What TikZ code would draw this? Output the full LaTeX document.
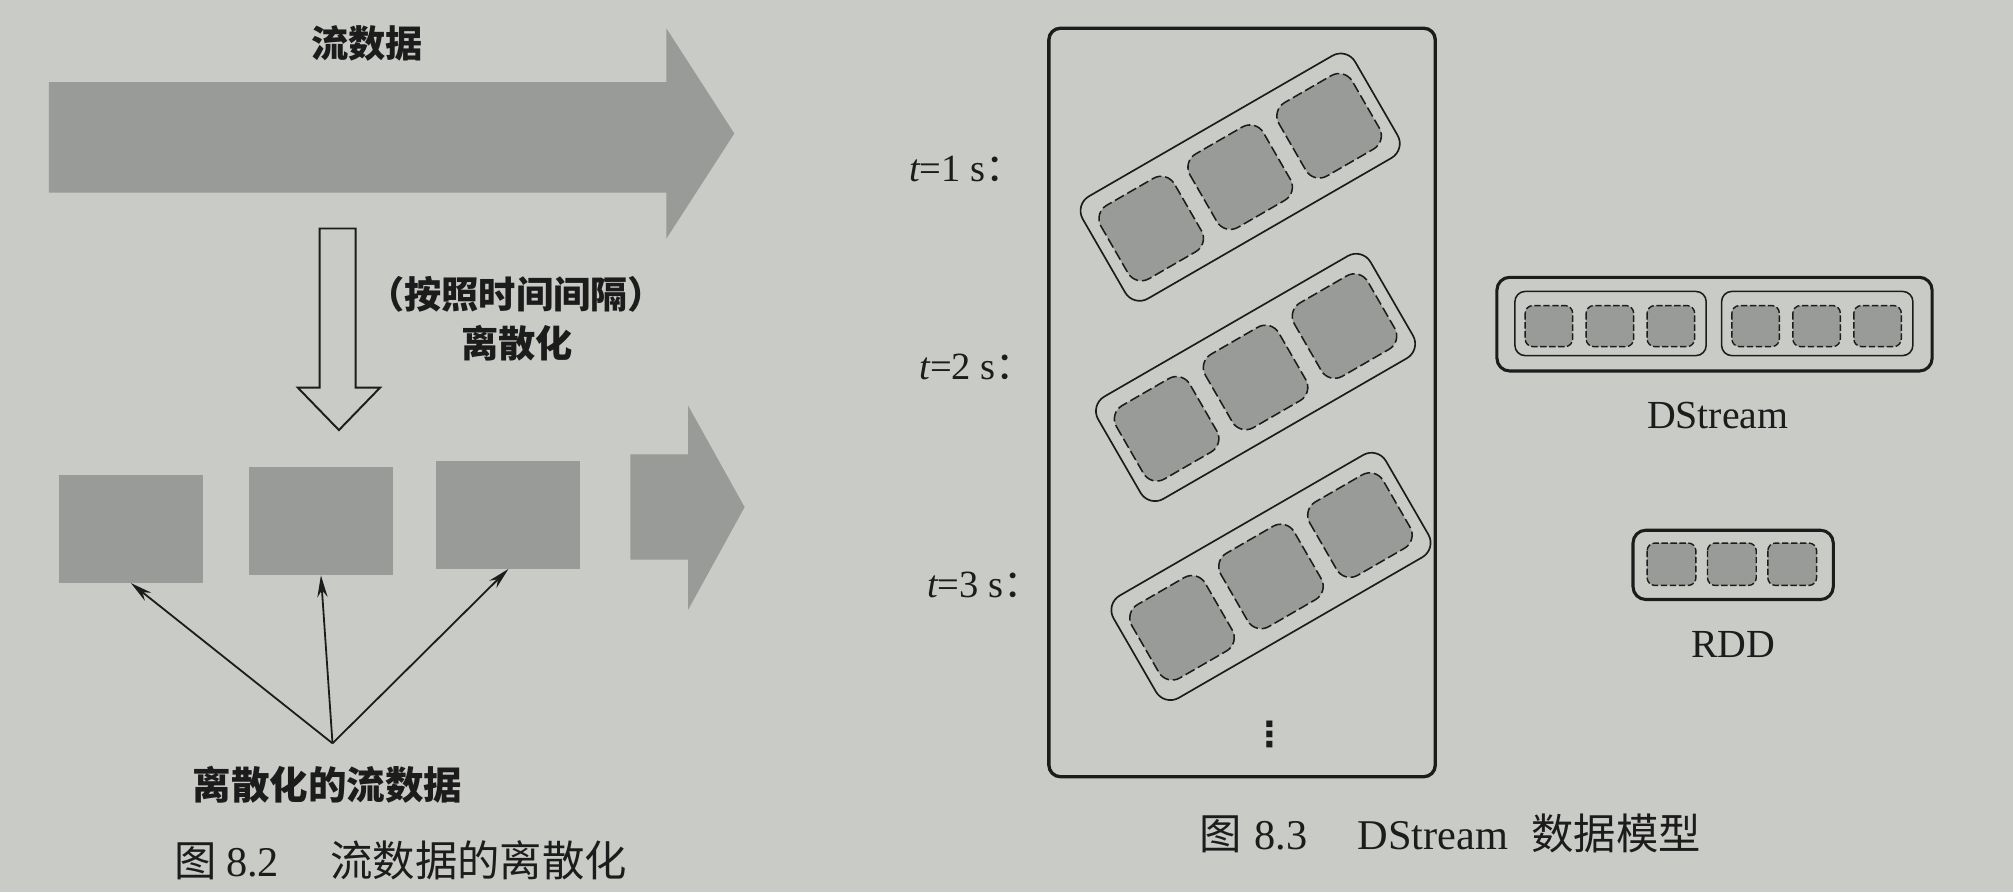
\documentclass[tikz,border=0pt]{standalone}
\usepackage{fontspec}
\setmainfont{Liberation Serif}
\newfontfamily\cjk{Noto Sans CJK SC}
\newfontfamily\symb{DejaVu Sans}
\usetikzlibrary{arrows.meta}

\definecolor{paper}{RGB}{201,203,199}
\definecolor{ink}{RGB}{28,28,28}
\definecolor{blockgray}{RGB}{152,155,152}

\begin{document}
\begin{tikzpicture}[x=1pt,y=-1pt,
    txt/.style={text=ink, inner sep=0pt},
    headline/.style={txt, font=\cjk\bfseries\fontsize{29}{34}\selectfont},
    block/.style={fill=blockgray, inner sep=0pt, minimum width=112pt, minimum height=84pt},
    ptr/.style={draw=ink, line width=1.4pt, -{Stealth[length=17pt,width=8pt]}},
    batch/.style={draw=ink, line width=1.3pt, rounded corners=13pt},
    part/.style={draw=ink, line width=1.2pt, dash pattern=on 8pt off 3pt, fill=blockgray, rounded corners=12pt},
    thickbox/.style={draw=ink, line width=2.4pt, rounded corners=10pt},
    thinbox/.style={draw=ink, line width=1.2pt, rounded corners=8pt},
    cell/.style={draw=ink, line width=1.1pt, dash pattern=on 5pt off 2pt, fill=blockgray, rounded corners=6pt}
]
    \useasboundingbox (0,0) rectangle (1568,695);
    \fill[paper] (0,0) rectangle (1568,695);

    % Stream
    \node[headline] (stream) at (286,34) {流数据};
    \fill[blockgray] (38,64) -- (519,64) -- (519,22) -- (572,104) -- (519,186) -- (519,150) -- (38,150) -- cycle;

    % Discretize
    \draw[ink, line width=1.5pt] (249,178) -- (277,178) -- (277,302) -- (296,302) -- (264,335) -- (232,302) -- (249,302) -- cycle;
    \node[headline] (how) at (402,229) {（按照时间间隔）};
    \node[headline] (disc) at (403,267) {离散化};

    % Discretized stream
    \node[block] (sq1) at (102,412) {};
    \node[block] (sq2) at (250,406) {};
    \node[block] (sq3) at (396,401) {};
    \fill[blockgray] (491,354) -- (536,354) -- (536,316) -- (580,395) -- (536,475) -- (536,436) -- (491,436) -- cycle;

    \coordinate (hub) at (259,579);
    \node[headline, font=\cjk\bfseries\fontsize{30}{34}\selectfont] (result) at (255,611) {离散化的流数据};
    \draw[ptr] (hub) -- (sq1.south);
    \draw[ptr] (hub) -- (sq2.south);
    \draw[ptr] (hub) -- (sq3.south);

    \node[txt, anchor=west, font=\fontsize{33}{38}\selectfont] (cap82) at (136,670)
        {{\cjk 图}\hspace{7pt}8.2\hspace{40pt}{\cjk 流数据的离散化}};

    % DStream model
    \draw[ink, line width=2.6pt, rounded corners=9pt] (817,22) rectangle (1118,605);
    \foreach \cx/\cy/\lx/\ly/\t in {966/138/708/132/1, 978/294/716/286/2, 990/449/722/456/3} {
        \begin{scope}[shift={(\cx,\cy)}, rotate=30]
            \draw[batch] (-122.5,-46) rectangle (122.5,46);
            \foreach \k in {-1,0,1}
                \draw[part] (\k*80-33,-33) rectangle (\k*80+33,33);
        \end{scope}
        \node[txt, anchor=west, font=\fontsize{30}{34}\selectfont] (t\t) at (\lx,\ly) {{\itshape t}=\t{} s{\cjk ：}};
    }
    \node[txt, font=\symb\bfseries\fontsize{27}{30}\selectfont] (more) at (989,572) {⋮};

    % DStream
    \draw[thickbox] (1166,216) rectangle (1505,289);
    \foreach \dx in {0,161} {
        \draw[thinbox] (1180+\dx,227) rectangle (1329+\dx,277);
        \foreach \k in {0,1,2}
            \draw[cell] (1188+\dx+\k*47.5,238) rectangle (1225+\dx+\k*47.5,270);
    }
    \node[txt, font=\fontsize{31}{36}\selectfont] (dstream) at (1338,324) {DStream};

    % RDD
    \draw[thickbox] (1272,413) rectangle (1428,467);
    \foreach \k in {0,1,2}
        \draw[cell] (1283+\k*47,423) rectangle (1321+\k*47,456);
    \node[txt, font=\fontsize{31}{36}\selectfont] (rdd) at (1350,502) {RDD};

    \node[txt, anchor=west, font=\fontsize{33}{38}\selectfont] (cap83) at (934,649)
        {{\cjk 图}\hspace{10pt}8.3\hspace{39pt}DStream\hspace{18pt}{\cjk 数据模型}};
\end{tikzpicture}
\end{document}
